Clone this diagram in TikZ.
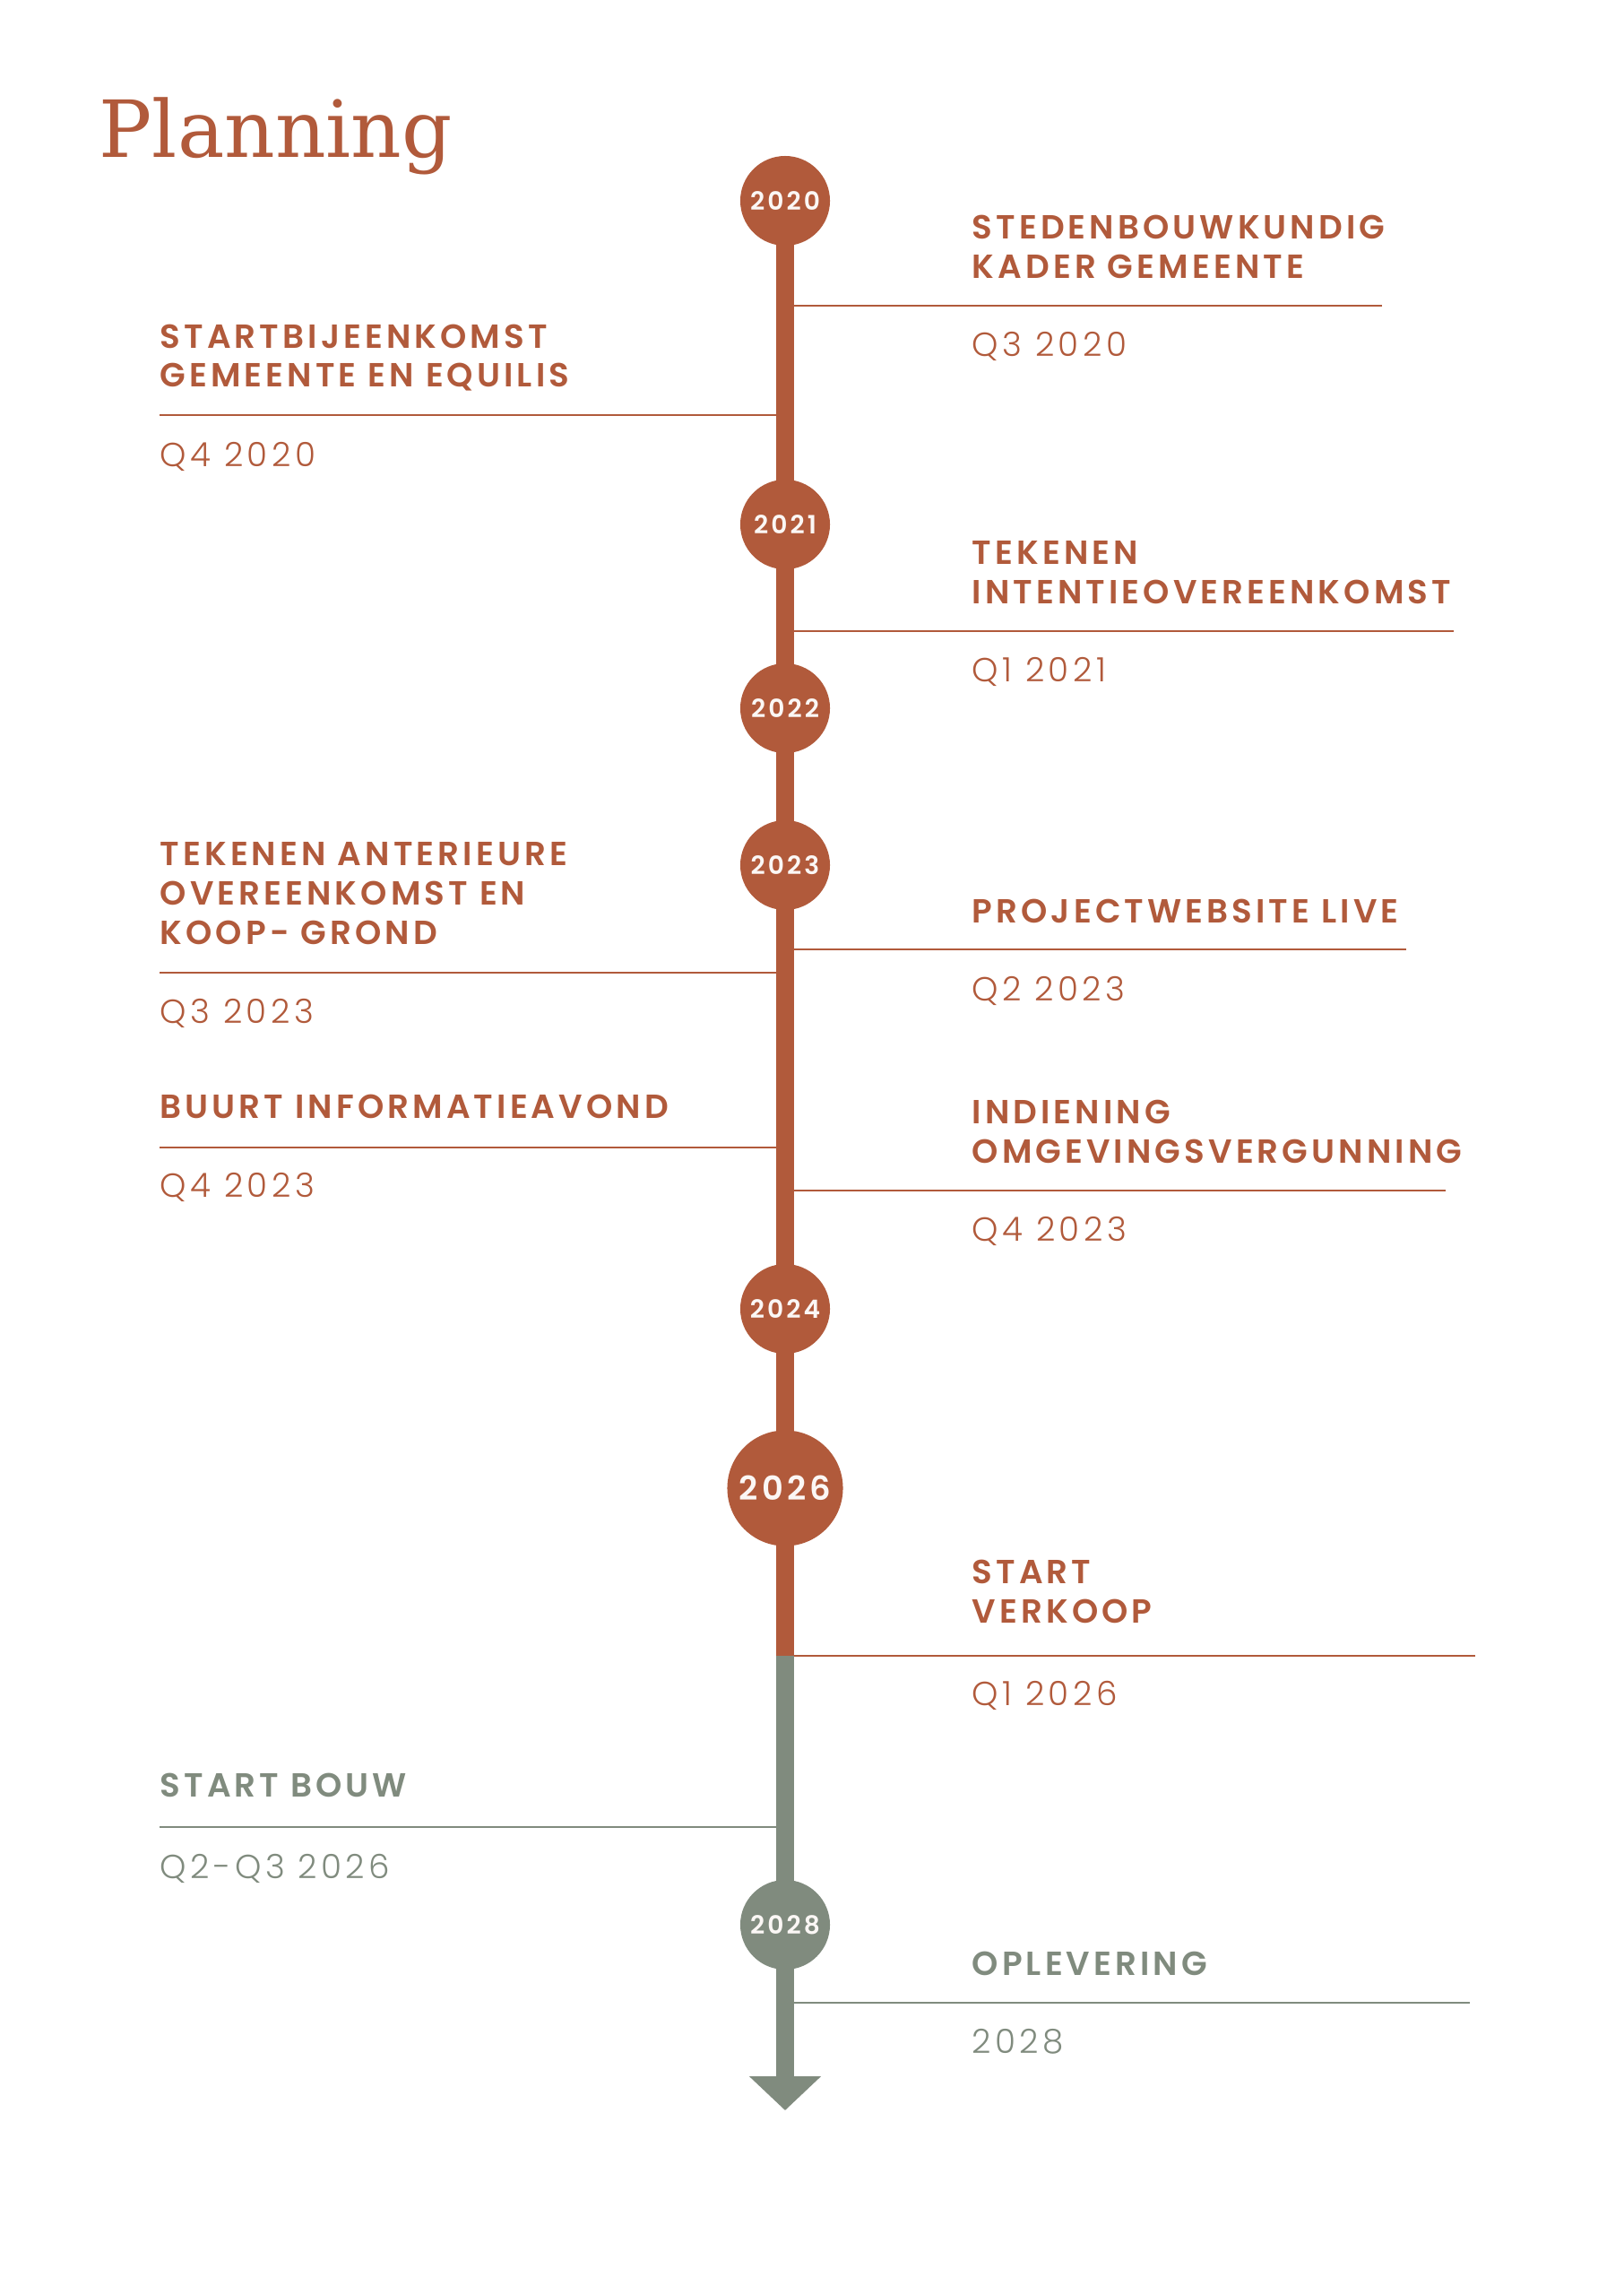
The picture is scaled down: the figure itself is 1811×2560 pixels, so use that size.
\documentclass[tikz,border=0pt]{standalone}
\usepackage{fontspec}
\usetikzlibrary{arrows.meta}
\IfFontExistsTF{Poppins SemiBold}{\newfontfamily\headfont{Poppins SemiBold}[LetterSpace=11]}{\newfontfamily\headfont{Poppins}[LetterSpace=11,FakeBold=1]}
\IfFontExistsTF{Poppins Light}{\newfontfamily\datefont{Poppins Light}[LetterSpace=12]}{\newfontfamily\datefont{Poppins}[LetterSpace=12]}
\newfontfamily\titlefont{DejaVu Serif}
\definecolor{rust}{HTML}{B15A3B}
\definecolor{sage}{HTML}{808B7E}

\begin{document}
\begin{tikzpicture}[x=0.01cm, y=-0.01cm,
year/.style = {circle, fill=rust, minimum size=1cm, inner sep=0pt, text=white!95!rust,
  font=\headfont\fontsize{8}{8}\selectfont},
head/.style = {anchor=south west, inner sep=0pt, align=left, text=rust,
  font=\headfont\fontsize{10.6}{12.4}\selectfont},
date/.style = {anchor=base west, inner sep=0pt, text=rust,
  font=\datefont\fontsize{10.6}{12.4}\selectfont},
rule/.style = {draw=rust, line width=0.02cm},
spine/.style = {line width=0.2cm}]
\fill[white] (0,0) rectangle (1811,2560);
\useasboundingbox (0,0) rectangle (1811,2560);

\node[anchor=base west, inner sep=0pt, text=rust, font=\titlefont\fontsize{25}{25}\selectfont]
  (title) at (110,175) {Planning};

\coordinate (p2020) at (876,224);
\coordinate (p2026) at (876,1660);
\coordinate (split) at (876,1847);
\coordinate (tip) at (876,2354);

% entries, right side
\coordinate (r1) at (1542,341);
\coordinate (r2) at (1622,704);
\coordinate (r3) at (1569,1059);
\coordinate (r4) at (1613,1328);
\coordinate (r5) at (1646,1847);
\coordinate (r6) at (1640,2234);
\draw[rule] (r1) -- (r1 -| p2020);
\draw[rule] (r2) -- (r2 -| p2020);
\draw[rule] (r3) -- (r3 -| p2020);
\draw[rule] (r4) -- (r4 -| p2020);
\draw[rule] (r5) -- (r5 -| p2020);
\draw[rule, draw=sage] (r6) -- (r6 -| p2020);

% entries, left side
\coordinate (l1) at (178,463);
\coordinate (l2) at (178,1085);
\coordinate (l3) at (178,1280);
\coordinate (l4) at (178,2038);
\draw[rule] (l1) -- (l1 -| p2020);
\draw[rule] (l2) -- (l2 -| p2020);
\draw[rule] (l3) -- (l3 -| p2020);
\draw[rule, draw=sage] (l4) -- (l4 -| p2020);

\draw[spine, rust] (p2020) -- (split);
\draw[spine, sage, -{Triangle[width=0.78cm, length=0.38cm]}] (split) -- (tip);

\node[year] (y2020) at (p2020) {2020};
\node[year] (y2021) at (876,585) {2021};
\node[year] (y2022) at (876,790) {2022};
\node[year] (y2023) at (876,965) {2023};
\node[year] (y2024) at (876,1460) {2024};
\node[year, minimum size=1.29cm, font=\headfont\fontsize{10.5}{10.5}\selectfont] (y2026) at (p2026) {2026};
\node[year, fill=sage] (y2028) at (876,2147) {2028};

\node[head] (h1) at (1084,311) {STEDENBOUWKUNDIG\\KADER GEMEENTE};
\node[date] (d1) at (1084,397) {Q3 2020};
\node[head] (h2) at (1084,674) {TEKENEN\\INTENTIEOVEREENKOMST};
\node[date] (d2) at (1084,760) {Q1 2021};
\node[head] (h3) at (1084,1030) {PROJECTWEBSITE LIVE};
\node[date] (d3) at (1084,1116) {Q2 2023};
\node[head] (h4) at (1084,1298) {INDIENING\\OMGEVINGSVERGUNNING};
\node[date] (d4) at (1084,1384) {Q4 2023};
\node[head] (h5) at (1084,1811) {START\\VERKOOP};
\node[date] (d5) at (1084,1902) {Q1 2026};
\node[head, text=sage] (h6) at (1084,2204) {OPLEVERING};
\node[date, text=sage] (d6) at (1084,2290) {2028};

\node[head] (h7) at (178,437) {STARTBIJEENKOMST\\GEMEENTE EN EQUILIS};
\node[date] (d7) at (178,520) {Q4 2020};
\node[head] (h8) at (178,1054) {TEKENEN ANTERIEURE\\OVEREENKOMST EN\\KOOP- GROND};
\node[date] (d8) at (178,1141) {Q3 2023};
\node[head] (h9) at (178,1248) {BUURT INFORMATIEAVOND};
\node[date] (d9) at (178,1335) {Q4 2023};
\node[head, text=sage] (h10) at (178,2005) {START BOUW};
\node[date, text=sage] (d10) at (178,2095) {Q2-Q3 2026};
\end{tikzpicture}
\end{document}
